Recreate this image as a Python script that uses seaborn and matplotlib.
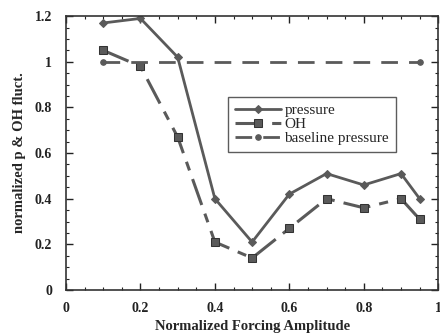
import matplotlib
matplotlib.use("Agg")
import matplotlib.pyplot as plt
import seaborn as sns
import pandas as pd
from matplotlib.ticker import MultipleLocator, FuncFormatter

x_vals = [0.1, 0.2, 0.3, 0.4, 0.5, 0.6, 0.7, 0.8, 0.9, 0.95]
pressure = [1.17, 1.19, 1.02, 0.40, 0.21, 0.42, 0.51, 0.46, 0.51, 0.40]
oh = [1.05, 0.98, 0.67, 0.21, 0.14, 0.27, 0.40, 0.36, 0.40, 0.31]
baseline_x = [0.1, 0.95]
baseline = [1.0, 1.0]

sns.set_theme(style="ticks")
plt.rcParams['font.family'] = ['Liberation Serif', 'DejaVu Serif']
plt.rcParams['font.weight'] = 'bold'

fig = plt.figure(figsize=(4.4, 3.36), dpi=100)
ax = fig.add_axes([0.15, 0.137, 0.846, 0.815])

col = "#5a5a5a"
df_p = pd.DataFrame({"x": x_vals, "y": pressure})
df_o = pd.DataFrame({"x": x_vals, "y": oh})
df_b = pd.DataFrame({"x": baseline_x, "y": baseline})

sns.lineplot(data=df_p, x="x", y="y", ax=ax, color=col, lw=2.0, marker="D",
             markersize=4, markeredgecolor=col, label="pressure")
sns.lineplot(data=df_o, x="x", y="y", ax=ax, color=col, lw=2.2, marker="s",
             markersize=6, markeredgecolor="#333333", label="OH")
ax.lines[-1].set_dashes([9, 3, 3, 3])
sns.lineplot(data=df_b, x="x", y="y", ax=ax, color=col, lw=2.0, marker="o",
             markersize=4, markeredgecolor=col, label="baseline pressure")
ax.lines[-1].set_dashes([6, 4])

ax.set_xlim(0, 1)
ax.set_ylim(0, 1.2)
fmt = FuncFormatter(lambda v, p: ("%g" % round(v, 2)))
ax.xaxis.set_major_locator(MultipleLocator(0.2))
ax.xaxis.set_minor_locator(MultipleLocator(0.05))
ax.yaxis.set_major_locator(MultipleLocator(0.2))
ax.yaxis.set_minor_locator(MultipleLocator(0.05))
ax.xaxis.set_major_formatter(fmt)
ax.yaxis.set_major_formatter(fmt)
ax.tick_params(which="both", direction="in", top=True, right=True,
               labelsize=10, colors="#222222")
ax.tick_params(axis="y", pad=10)
ax.tick_params(axis="x", pad=9)
ax.tick_params(which="major", length=5, width=1)
ax.tick_params(which="minor", length=2.5, width=0.8)
for s in ax.spines.values():
    s.set_linewidth(1.2)
    s.set_color("#333333")

ax.set_xlabel("Normalized Forcing Amplitude", fontsize=10.5, fontweight="bold", labelpad=3)
ax.set_ylabel("normalized p & OH fluct.", fontsize=10.5, fontweight="bold", labelpad=6)

leg = ax.legend(loc="upper left", bbox_to_anchor=(0.435, 0.705), frameon=True,
                fancybox=False, edgecolor="#333333", borderaxespad=0,
                handlelength=3.0, handletextpad=0.25, borderpad=0.45,
                labelspacing=0.0, prop={'weight': 'normal', 'size': 11})
leg.get_frame().set_linewidth(1.0)

fig.savefig("out.png", dpi=100)
